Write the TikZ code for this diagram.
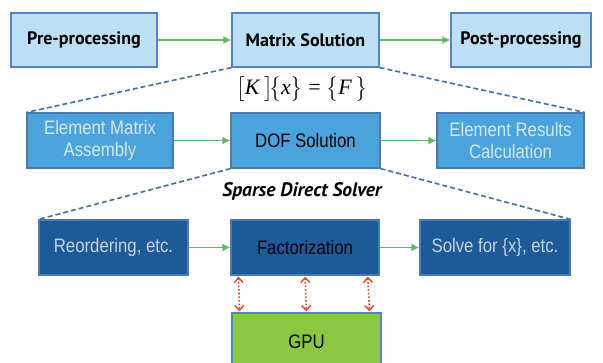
\documentclass[tikz,border=0pt]{standalone}
\usepackage{fontspec}
\setmainfont{Liberation Sans}
\newfontfamily\rowonefont{PT Sans}
\newfontfamily\narrowfont{Liberation Sans}[FakeStretch=0.86]
\newfontfamily\eqfont{Liberation Serif}
\usepackage{tikz}
\usetikzlibrary{arrows.meta,calc}
\usepackage{amsmath}

\definecolor{lightbox}{HTML}{BDE0F6}
\definecolor{midbox}{HTML}{4AA3DC}
\definecolor{darkbox}{HTML}{1D5A9A}
\definecolor{boxline}{HTML}{4F86C6}
\definecolor{paletext}{HTML}{D3E8F6}
\definecolor{greytext}{HTML}{C9D3DE}
\definecolor{flowgreen}{HTML}{5DBB5D}
\definecolor{dashblue}{HTML}{3F6FA8}
\definecolor{gpugreen}{HTML}{8DC641}
\definecolor{linkred}{HTML}{E8432B}

\tikzset{
  toplevel/.style={draw=boxline, fill=lightbox, line width=1.2pt, minimum height=54pt,
    font=\rowonefont\bfseries\fontsize{18}{21}\selectfont, text=black},
  midlevel/.style={draw=darkbox!80, fill=midbox, line width=1.2pt, minimum height=55pt,
    align=center, font=\narrowfont\fontsize{19.5}{22}\selectfont, text=paletext},
  lowlevel/.style={draw=darkbox!80, fill=darkbox, line width=1.2pt, minimum height=55pt,
    font=\narrowfont\fontsize{19.5}{22}\selectfont, text=greytext},
  flow/.style={draw=flowgreen, line width=1.6pt, -{Latex[length=8pt,width=8pt]}},
  zoomline/.style={draw=dashblue, line width=1.6pt, dash pattern=on 5pt off 3pt},
  gpulink/.style={draw=linkred, line width=1.6pt, dotted, {Straight Barb[length=5pt,width=9pt,line width=1.4pt]}-{Straight Barb[length=5pt,width=9pt,line width=1.4pt]}, shorten <=1pt, shorten >=1pt}
}

\begin{document}
\begin{tikzpicture}[x=1pt,y=-1pt]
\useasboundingbox (0,0) rectangle (603,362);
\clip (0,0) rectangle (603,362);

\node[toplevel, minimum width=146pt] (pre) at (84,40) {Pre-processing};
\node[toplevel, minimum width=147pt] (mat) at (305.5,40) {Matrix Solution};
\node[toplevel, minimum width=140pt] (post) at (521,40) {Post-processing};
\node[font=\eqfont\fontsize{22}{24}\selectfont] (eq) at (302,89)
  {\big[\textit{K}\,\big]\!\big\{\textit{x}\big\} = \big\{\textit{F}\,\big\}};

\node[midlevel, minimum width=146pt] (ema) at (100,140.5) {Element Matrix\\Assembly};
\node[midlevel, minimum width=149pt, text=black] (dof) at (305.5,140.5) {DOF Solution};
\node[midlevel, minimum width=147pt] (erc) at (510.5,140.5) {Element Results\\Calculation};
\node[font=\rowonefont\bfseries\itshape\fontsize{19.5}{22}\selectfont] (sds) at (302,191) {Sparse Direct Solver};

\node[lowlevel, minimum width=149pt] (reo) at (113.5,247.5) {Reordering, etc.};
\node[lowlevel, minimum width=148pt, text=black] (fac) at (305,247.5) {Factorization};
\node[lowlevel, minimum width=150pt] (sol) at (495,247.5) {Solve for \{x\}, etc.};
\node[draw=boxline, fill=gpugreen, line width=1.2pt, minimum width=149pt, minimum height=57pt,
  font=\narrowfont\fontsize{19.5}{22}\selectfont] (gpu) at (306.5,341.5) {GPU};

\draw[flow] (pre) -- (mat);
\draw[flow] (mat) -- (post);
\draw[flow] (ema) -- (dof);
\draw[flow] (dof) -- (erc);
\draw[flow] (reo) -- (fac);
\draw[flow] (fac) -- (sol);

\draw[zoomline] (mat.south west) -- (ema.north west);
\draw[zoomline] (mat.south east) -- (erc.north east);
\draw[zoomline] (dof.south west) -- (reo.north west);
\draw[zoomline] (dof.south east) -- (sol.north east);

\foreach \f in {0.054,0.5,0.92}
  \draw[gpulink] ($(fac.south west)!\f!(fac.south east)$) -- ($(gpu.north west)!\f!(gpu.north east)$);
\end{tikzpicture}
\end{document}
